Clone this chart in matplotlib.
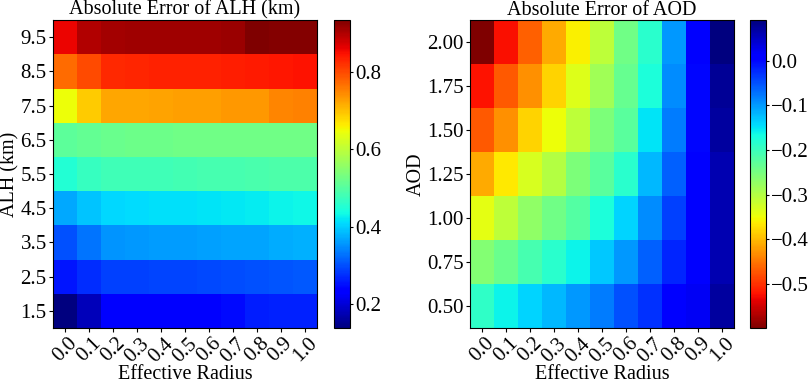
import numpy as np
import matplotlib
matplotlib.use('Agg')
import matplotlib.pyplot as plt

plt.rcParams['font.family'] = ['Liberation Serif', 'DejaVu Serif']
plt.rcParams['font.size'] = 15
plt.rcParams['xtick.major.size'] = 3
plt.rcParams['ytick.major.size'] = 3
plt.rcParams['xtick.major.pad'] = 1.5
plt.rcParams['ytick.major.pad'] = 1.5

# Effective radius categories (x axis)
radius = [0.0, 0.1, 0.2, 0.3, 0.4, 0.5, 0.6, 0.7, 0.8, 0.9, 1.0]
radius_labels = ['0.0', '0.1', '0.2', '0.3', '0.4', '0.5', '0.6', '0.7', '0.8', '0.9', '1.0']

# ALH levels (rows of the left map, bottom to top)
alh_levels = ['1.5', '2.5', '3.5', '4.5', '5.5', '6.5', '7.5', '8.5', '9.5']
alh_err = [
    [0.138, 0.18, 0.235, 0.24, 0.24, 0.24, 0.24, 0.245, 0.26, 0.265, 0.265],
    [0.255, 0.272, 0.29, 0.29, 0.292, 0.292, 0.295, 0.298, 0.302, 0.305, 0.308],
    [0.30, 0.33, 0.355, 0.358, 0.36, 0.36, 0.362, 0.365, 0.368, 0.372, 0.375],
    [0.37, 0.39, 0.408, 0.41, 0.412, 0.412, 0.415, 0.418, 0.422, 0.428, 0.432],
    [0.45, 0.47, 0.478, 0.48, 0.48, 0.482, 0.484, 0.486, 0.488, 0.49, 0.492],
    [0.505, 0.512, 0.52, 0.522, 0.522, 0.524, 0.524, 0.525, 0.525, 0.526, 0.526],
    [0.645, 0.69, 0.72, 0.722, 0.724, 0.726, 0.728, 0.732, 0.735, 0.748, 0.752],
    [0.772, 0.798, 0.828, 0.83, 0.832, 0.832, 0.834, 0.836, 0.838, 0.842, 0.845],
    [0.858, 0.898, 0.909, 0.91, 0.91, 0.911, 0.912, 0.915, 0.934, 0.928, 0.928],
]

# AOD levels (rows of the right map, bottom to top)
aod_levels = ['0.50', '0.75', '1.00', '1.25', '1.50', '1.75', '2.00']
aod_err = [
    [-0.19, -0.16, -0.14, -0.12, -0.10, -0.08, -0.05, -0.03, 0.01, 0.02, 0.07],
    [-0.26, -0.24, -0.21, -0.185, -0.16, -0.13, -0.10, -0.06, -0.02, 0.01, 0.06],
    [-0.34, -0.31, -0.27, -0.245, -0.22, -0.175, -0.14, -0.09, -0.04, 0.01, 0.06],
    [-0.41, -0.365, -0.33, -0.30, -0.255, -0.225, -0.185, -0.12, -0.06, 0.01, 0.06],
    [-0.47, -0.43, -0.38, -0.35, -0.31, -0.255, -0.225, -0.15, -0.08, 0.0, 0.07],
    [-0.52, -0.47, -0.43, -0.38, -0.335, -0.285, -0.235, -0.175, -0.09, 0.0, 0.075],
    [-0.598, -0.525, -0.465, -0.41, -0.36, -0.31, -0.245, -0.185, -0.10, 0.01, 0.091],
]

fig = plt.figure(figsize=(8.09, 3.84), dpi=100)

# Left panel: ALH error
ax1 = fig.add_axes([0.0655, 0.146, 0.326, 0.802])
im1 = ax1.imshow(np.array(alh_err), cmap='jet', aspect='auto', origin='lower')
ax1.set_xticks(range(len(radius)))
ax1.set_xticklabels(radius_labels, rotation=45)
ax1.set_yticks(range(len(alh_levels)))
ax1.set_yticklabels(alh_levels)
ax1.set_xlabel('Effective Radius', fontsize=14.5, labelpad=-1)
ax1.set_ylabel('ALH (km)', fontsize=14.5, labelpad=1)
ax1.set_title('Absolute Error of ALH (km)', fontsize=14.5, pad=1)
cax1 = fig.add_axes([0.4128, 0.146, 0.0198, 0.802])
cb1 = fig.colorbar(im1, cax=cax1, ticks=[0.2, 0.4, 0.6, 0.8])
cb1.ax.tick_params(length=2.5, pad=1)

# Right panel: AOD error
ax2 = fig.add_axes([0.581, 0.146, 0.326, 0.802])
im2 = ax2.imshow(np.array(aod_err), cmap='jet_r', aspect='auto', origin='lower')
ax2.set_xticks(range(len(radius)))
ax2.set_xticklabels(radius_labels, rotation=45)
ax2.set_yticks(range(len(aod_levels)))
ax2.set_yticklabels(aod_levels)
ax2.set_xlabel('Effective Radius', fontsize=14.5, labelpad=-1)
ax2.set_ylabel('AOD', fontsize=14.5, labelpad=1)
ax2.set_title('Absolute Error of AOD', fontsize=14.5, pad=1)
cax2 = fig.add_axes([0.927, 0.146, 0.0198, 0.802])
cb2 = fig.colorbar(im2, cax=cax2, ticks=[-0.5, -0.4, -0.3, -0.2, -0.1, 0.0])
cb2.ax.tick_params(length=2.5, pad=1)

fig.savefig('out.png', dpi=100)
